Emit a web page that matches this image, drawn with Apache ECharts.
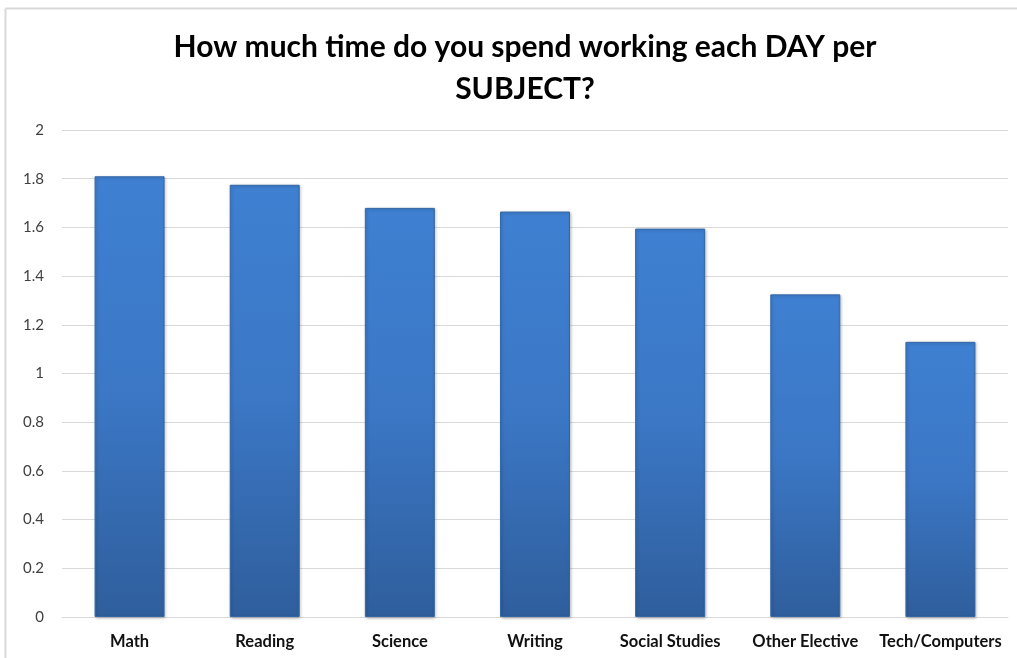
<!DOCTYPE html>
<html><head><meta charset="utf-8">
<script src="https://cdn.jsdelivr.net/npm/echarts@6/dist/echarts.min.js"></script>
<style>html,body{margin:0;padding:0;background:#fff}#c{width:1017px;height:658px}</style>
</head><body><div id="c"></div>
<script>
const categories = ['Math','Reading','Science','Writing','Social Studies','Other Elective','Tech/Computers'];
const hoursPerDay = [1.81, 1.775, 1.68, 1.665, 1.595, 1.325, 1.13];
const yTicks = {min: 0, max: 2, interval: 0.2};
const titleText = 'How much time do you spend working each DAY per\nSUBJECT?';

const chart = echarts.init(document.getElementById('c'), null, {renderer: 'canvas'});
const font = 'Lato, "Open Sans", sans-serif';
chart.setOption({
  backgroundColor: '#fff',
  animation: false,
  title: {
    text: titleText, left: 520, top: 21, textAlign: 'center',
    textStyle: {fontFamily: font, fontWeight: 'bold', fontSize: 30, color: '#000', lineHeight: 42}
  },
  grid: {left: 62, right: 9, top: 130, bottom: 41, containLabel: false},
  xAxis: {
    type: 'category', data: categories,
    axisLine: {show: true, lineStyle: {color: '#d9d9d9', width: 1}},
    axisTick: {show: false},
    axisLabel: {fontFamily: font, fontWeight: 'bold', fontSize: 16.5, color: '#111', margin: 16, interval: 0}
  },
  yAxis: {
    type: 'value', min: yTicks.min, max: yTicks.max, interval: yTicks.interval,
    axisLine: {show: false}, axisTick: {show: false},
    splitLine: {lineStyle: {color: '#d9d9d9', width: 1}},
    axisLabel: {fontFamily: font, fontSize: 15, color: '#404040', margin: 18,
      formatter: v => String(Math.round(v * 10) / 10)}
  },
  series: [{
    type: 'bar', data: hoursPerDay, barWidth: 70,
    itemStyle: {
      color: new echarts.graphic.LinearGradient(0, 0, 0, 1, [
        {offset: 0, color: '#3f80d2'},
        {offset: 0.5, color: '#3b77c5'},
        {offset: 1, color: '#2f5e9c'}
      ]),
      borderColor: '#3467a8', borderWidth: 1,
      shadowColor: 'rgba(0,0,0,0.25)', shadowBlur: 3, shadowOffsetX: 1, shadowOffsetY: 1
    }
  }],
  graphic: [
    {type: 'line', shape: {x1: 5.5, y1: 8.5, x2: 1017, y2: 8.5}, style: {stroke: '#d9d9d9', lineWidth: 2}, silent: true},
    {type: 'line', shape: {x1: 5.5, y1: 8.5, x2: 5.5, y2: 658}, style: {stroke: '#d9d9d9', lineWidth: 2}, silent: true}
  ]
});
</script></body></html>
